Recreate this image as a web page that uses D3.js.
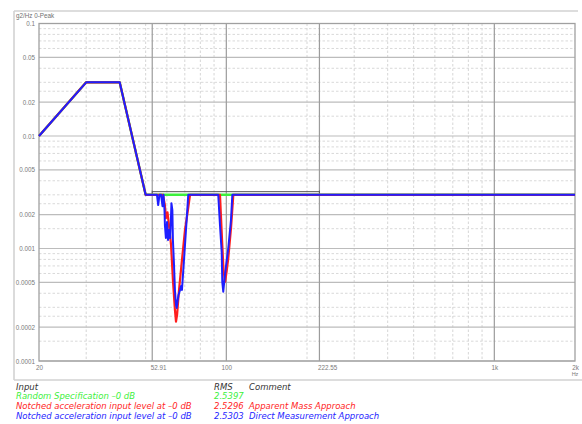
<!DOCTYPE html>
<html>
<head>
<meta charset="utf-8">
<script src="https://cdn.jsdelivr.net/npm/d3@7/dist/d3.min.js"></script>
<style>
  html, body { margin: 0; padding: 0; background: #fff; }
  svg { display: block; font-family: "Liberation Sans", Arial, sans-serif; }
</style>
</head>
<body>
<svg id="chart" width="582" height="424"></svg>
<script>
// Random specification (g2/Hz vs Hz)
const specFreq = [20, 30, 40, 50, 2000];
const specPsd  = [0.01, 0.03, 0.03, 0.003, 0.003];

// Notched input, apparent mass approach
const apparentFreq = [20, 30, 40, 50, 58.0, 59.0, 59.5, 60.3, 61.1, 62.2, 63.2, 64.3, 64.9, 65.5, 66.6, 68.3, 70.1, 71.9, 73.2,
                      94.7, 96.4, 97.6, 98.9, 100.2, 101.7, 104.1, 106.2, 2000];
const apparentPsd  = [0.01, 0.03, 0.03, 0.003, 0.003, 0.00243, 0.00186, 0.0021, 0.00161, 0.00107, 0.000525, 0.000284, 0.000224, 0.000257, 0.000428, 0.000789, 0.00146, 0.00219, 0.003,
                      0.003, 0.00119, 0.000643, 0.000506, 0.000618, 0.000822, 0.00152, 0.003, 0.003];

// Notched input, direct measurement approach
const directFreq = [20, 30, 40, 50, 54.2, 55.1, 55.7, 56.3, 57.1, 57.8, 58.3, 58.8, 59.0, 59.5, 60.1, 60.6, 61.1, 61.7, 62.2, 62.4, 62.9, 63.2, 63.8, 64.3, 64.9, 65.3, 65.7, 66.3, 67.2, 67.8, 68.3, 68.9, 70.1, 71.3, 72.1,
                    93.3, 94.7, 96.1, 96.6, 97.4, 98.4, 99.5, 101.7, 104.1, 105.3, 2000];
const directPsd  = [0.01, 0.03, 0.03, 0.003, 0.003, 0.003, 0.00243, 0.003, 0.003, 0.00238, 0.003, 0.00219, 0.00161, 0.00124, 0.00172, 0.00119, 0.00146, 0.00124, 0.00198, 0.00253, 0.00219, 0.00119, 0.000713, 0.000428, 0.000315, 0.000296, 0.000334, 0.000386, 0.000428, 0.000464, 0.000428, 0.000581, 0.00107, 0.00198, 0.003,
                    0.003, 0.00161, 0.000929, 0.000503, 0.000413, 0.000525, 0.00067, 0.00101, 0.0018, 0.003, 0.003];

// Notch band marker
const notchBand = [52.91, 222.55];
const notchMarkLevel = 0.0032;

// Axis ticks
const xTickValues = [20, 52.91, 100, 222.55, 1000, 2000];
const xTickLabels = ["20", "52.91", "100", "222.55", "1k", "2k"];
const yTickValues = [0.1, 0.05, 0.02, 0.01, 0.005, 0.002, 0.001, 0.0005, 0.0002, 0.0001];
const yTickLabels = ["0.1", "0.05", "0.02", "0.01", "0.005", "0.002", "0.001", "0.0005", "0.0002", "0.0001"];
const xMinorGrid = [30, 40, 50, 60, 70, 80, 90, 200, 300, 400, 500, 600, 700, 800, 900];
const yMinorMantissas = [1.5, 2.5, 3, 4, 6, 7, 8, 9];

// Legend table
const legendInputs   = ["Random Specification \u20130 dB", "Notched acceleration input level at  \u20130 dB", "Notched acceleration input level at  \u20130 dB"];
const legendRms      = ["2.5397", "2.5296", "2.5303"];
const legendComments = ["", "Apparent Mass Approach", "Direct Measurement Approach"];
const seriesColors   = ["#3cf03c", "#ff1e1e", "#1e1eff"];

const svg = d3.select("#chart");
const plot = { left: 39, right: 575, top: 23.5, bottom: 361 };

const x = d3.scaleLog().domain([20, 2000]).range([plot.left, plot.right]);
const y = d3.scaleLog().domain([0.0001, 0.1]).range([plot.bottom, plot.top]);

// outer panel frame
const frame = svg.append("g").attr("stroke", "#d2d2d2").attr("stroke-width", 1.6).attr("fill", "none");
frame.append("line").attr("x1", 14).attr("x2", 14).attr("y1", 11).attr("y2", 380);
frame.append("line").attr("x1", 14).attr("x2", 578).attr("y1", 11).attr("y2", 11);
frame.append("line").attr("x1", 14).attr("x2", 582).attr("y1", 380).attr("y2", 380);

svg.append("text").attr("x", 16).attr("y", 18)
  .attr("font-size", 6.3).attr("fill", "#707070").text("g2/Hz 0-Peak");

// grid
const grid = svg.append("g");
const yMinor = [];
[0.0001, 0.001, 0.01].forEach(dec => yMinorMantissas.forEach(m => yMinor.push(m * dec)));

grid.selectAll("line.ymin").data(yMinor).join("line")
  .attr("x1", plot.left).attr("x2", plot.right)
  .attr("y1", d => y(d)).attr("y2", d => y(d))
  .attr("stroke", "#d9d9d9").attr("stroke-width", 1).attr("stroke-dasharray", "2.5,2");

grid.selectAll("line.xmin").data(xMinorGrid).join("line")
  .attr("x1", d => x(d)).attr("x2", d => x(d))
  .attr("y1", plot.top).attr("y2", plot.bottom)
  .attr("stroke", "#d6d6d6").attr("stroke-width", 1).attr("stroke-dasharray", "2.5,2");

grid.selectAll("line.ymaj").data(yTickValues).join("line")
  .attr("x1", plot.left).attr("x2", plot.right)
  .attr("y1", d => y(d)).attr("y2", d => y(d))
  .attr("stroke", "#bcbcbc").attr("stroke-width", 1.2);

grid.selectAll("line.xmaj").data(xTickValues.slice(1, 5)).join("line")
  .attr("x1", d => x(d)).attr("x2", d => x(d))
  .attr("y1", plot.top).attr("y2", plot.bottom)
  .attr("stroke", "#9c9c9c").attr("stroke-width", 1.2);

svg.append("rect")
  .attr("x", plot.left).attr("y", plot.top)
  .attr("width", plot.right - plot.left).attr("height", plot.bottom - plot.top)
  .attr("fill", "none").attr("stroke", "#a0a0a0").attr("stroke-width", 1.3);

// axes labels
const yAxis = d3.axisLeft(y).tickValues(yTickValues).tickSize(0).tickPadding(4)
  .tickFormat((d, i) => yTickLabels[i]);
const yG = svg.append("g").attr("transform", `translate(${plot.left},0)`).call(yAxis);
yG.select(".domain").remove();
yG.selectAll("text").attr("font-size", 6.3).attr("fill", "#7a7a7a").attr("font-family", "Liberation Sans, Arial, sans-serif");

const xAxis = d3.axisBottom(x).tickValues(xTickValues).tickSize(0).tickPadding(5)
  .tickFormat((d, i) => xTickLabels[i]);
const xG = svg.append("g").attr("transform", `translate(0,${plot.bottom})`).call(xAxis);
xG.select(".domain").remove();
xG.selectAll("text").attr("font-size", 6.3).attr("fill", "#7a7a7a").attr("font-family", "Liberation Sans, Arial, sans-serif")
  .attr("text-anchor", (d, i) => (xTickLabels[i].includes(".") ? "start" : "middle"))
  .attr("dx", (d, i) => (xTickLabels[i].includes(".") ? -2 : 0));
svg.append("text").attr("x", x(2000)).attr("y", plot.bottom + 14.5)
  .attr("text-anchor", "middle").attr("font-size", 5.5).attr("fill", "#7a7a7a").text("Hz");

// notch band marker
const mark = svg.append("g").attr("stroke", "#555").attr("stroke-width", 1).attr("fill", "none");
mark.append("line").attr("x1", x(notchBand[0])).attr("x2", x(notchBand[1]))
  .attr("y1", y(notchMarkLevel)).attr("y2", y(notchMarkLevel));
notchBand.forEach(f => mark.append("line").attr("x1", x(f)).attr("x2", x(f))
  .attr("y1", y(notchMarkLevel) - 1).attr("y2", y(notchMarkLevel) + 2));

// series
const line = d3.line().x(d => x(d[0])).y(d => y(d[1]));
const series = [
  { f: specFreq, p: specPsd, w: 2.4 },
  { f: apparentFreq, p: apparentPsd, w: 2.2 },
  { f: directFreq, p: directPsd, w: 2.0 }
];
series.forEach((s, i) => {
  svg.append("path")
    .datum(s.f.map((f, k) => [f, s.p[k]]))
    .attr("d", line)
    .attr("fill", "none")
    .attr("stroke", seriesColors[i])
    .attr("stroke-width", s.w)
    .attr("stroke-linejoin", "round");
});

// legend table
const lg = svg.append("g").attr("font-size", 8.5).attr("font-style", "italic")
  .attr("font-family", "DejaVu Sans, Verdana, sans-serif");
const col = { input: 16, rms: 214, comment: 249 };
const headY = 389.5, rowH = 9.8;
lg.append("text").attr("x", col.input).attr("y", headY).attr("fill", "#333").text("Input");
lg.append("text").attr("x", col.rms).attr("y", headY).attr("fill", "#333").text("RMS");
lg.append("text").attr("x", col.comment).attr("y", headY).attr("fill", "#333").text("Comment");
legendInputs.forEach((t, i) => {
  const yy = headY + rowH * (i + 1);
  lg.append("text").attr("x", col.input).attr("y", yy).attr("fill", seriesColors[i]).text(t);
  lg.append("text").attr("x", col.rms).attr("y", yy).attr("fill", seriesColors[i]).text(legendRms[i]);
  lg.append("text").attr("x", col.comment).attr("y", yy).attr("fill", seriesColors[i]).text(legendComments[i]);
});
</script>
</body>
</html>
